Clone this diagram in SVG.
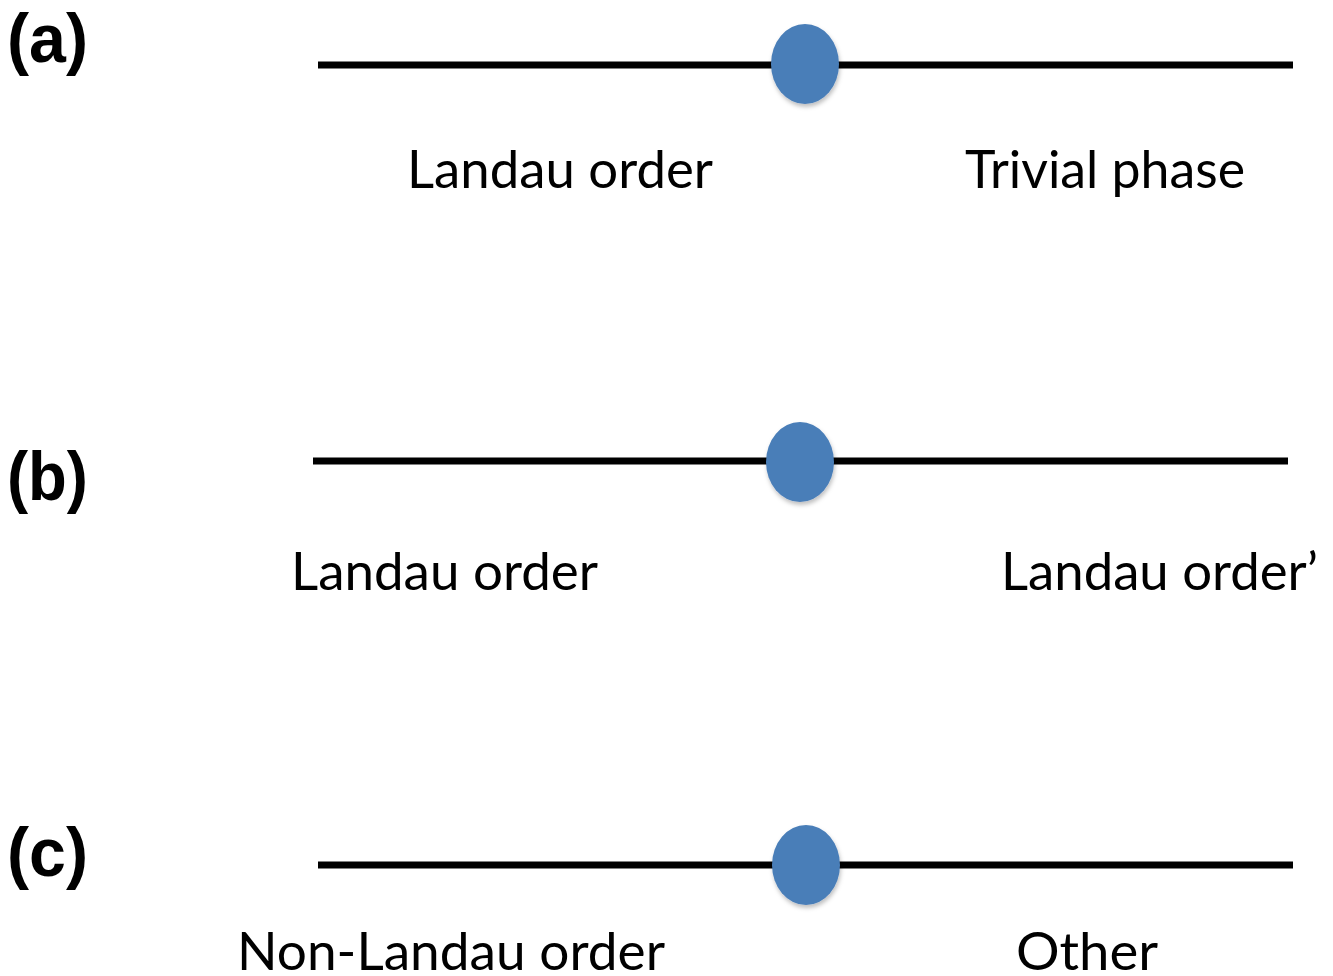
<svg xmlns="http://www.w3.org/2000/svg" width="1333" height="976" viewBox="0 0 1333 976">
<style>
.lbl{font-family:"Liberation Sans",Arial,sans-serif;font-weight:bold;font-size:68px;fill:#000}
.t{font-family:Lato,"Noto Sans",sans-serif;font-size:52px;fill:#000}
.ln{stroke:#000;stroke-width:7;fill:none}
.dot{fill:#4a7eb8}
</style>
<defs>
<filter id="sh" x="-30%" y="-30%" width="160%" height="160%"><feDropShadow dx="1" dy="3" stdDeviation="2" flood-color="#000" flood-opacity="0.25"/></filter>
</defs>
<rect width="1333" height="976" fill="#fff"/>
<g id="connectors">
<line class="ln" x1="318" y1="65" x2="1293" y2="65"/>
<line class="ln" x1="313" y1="461" x2="1288" y2="461"/>
<line class="ln" x1="318" y1="865" x2="1293" y2="865"/>
</g>
<g id="panel-a">
<text class="lbl" x="7" y="62" textLength="81" lengthAdjust="spacingAndGlyphs">(a)</text>
<ellipse id="dot-a" class="dot" filter="url(#sh)" cx="805" cy="64" rx="34" ry="40"/>
<text class="t" x="407" y="188" textLength="306" lengthAdjust="spacingAndGlyphs">Landau order</text>
<text class="t" x="965" y="188" textLength="280" lengthAdjust="spacingAndGlyphs">Trivial phase</text>
</g>
<g id="panel-b">
<text class="lbl" x="7" y="500" textLength="81" lengthAdjust="spacingAndGlyphs">(b)</text>
<ellipse id="dot-b" class="dot" filter="url(#sh)" cx="800" cy="462" rx="34" ry="40"/>
<text class="t" x="291" y="590" textLength="307" lengthAdjust="spacingAndGlyphs">Landau order</text>
<text class="t" x="1001" y="590" textLength="317" lengthAdjust="spacingAndGlyphs">Landau order’</text>
</g>
<g id="panel-c">
<text class="lbl" x="7" y="876" textLength="81" lengthAdjust="spacingAndGlyphs">(c)</text>
<ellipse id="dot-c" class="dot" filter="url(#sh)" cx="806" cy="865" rx="34" ry="40"/>
<text class="t" x="237" y="970" textLength="428" lengthAdjust="spacingAndGlyphs">Non-Landau order</text>
<text class="t" x="1016" y="970" textLength="142" lengthAdjust="spacingAndGlyphs">Other</text>
</g>
</svg>
